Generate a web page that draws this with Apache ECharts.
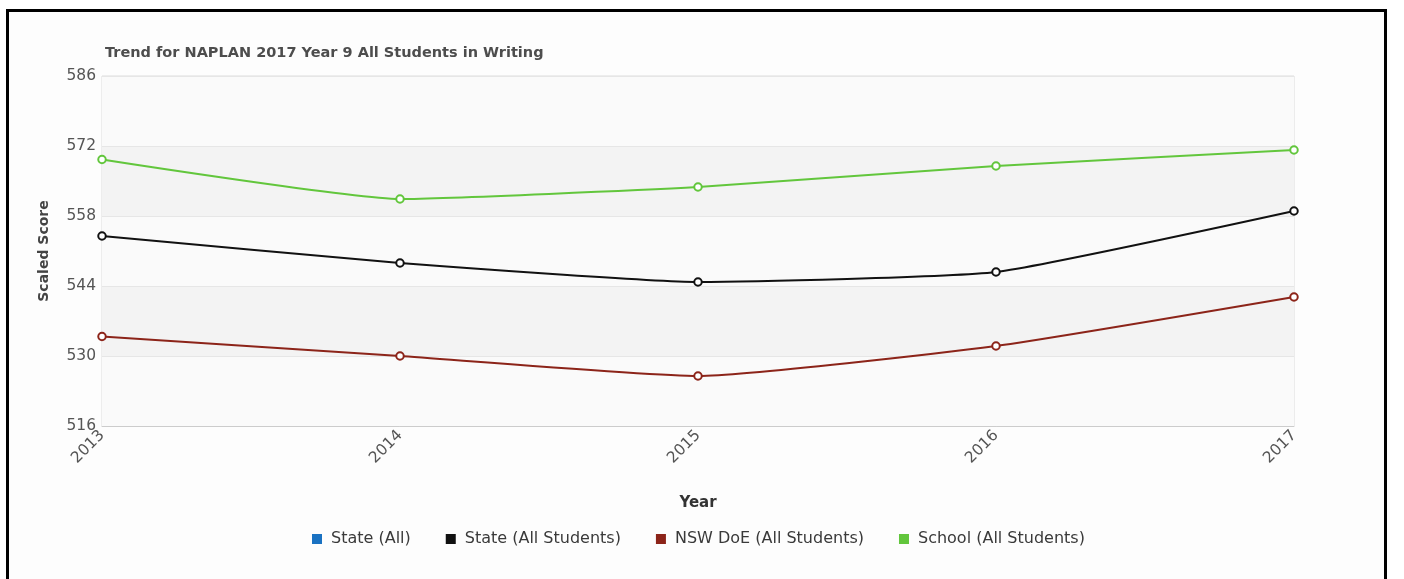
<!DOCTYPE html>
<html>
<head>
<meta charset="utf-8">
<title>Trend for NAPLAN 2017 Year 9 All Students in Writing</title>
<script src="https://cdn.jsdelivr.net/npm/echarts@6/dist/echarts.min.js"></script>
<style>
  html, body { margin: 0; padding: 0; background: #ffffff; }
  #frame {
    position: absolute; left: 6px; top: 9px; width: 1375px; height: 600px;
    border: 3px solid #000; background: #fdfdfd; box-sizing: content-box;
  }
  #chart { position: absolute; left: 0; top: 0; width: 1404px; height: 579px; }
</style>
</head>
<body>
<div id="frame"></div>
<div id="chart"></div>
<script>
// Years on the x axis
const years = ['2013', '2014', '2015', '2016', '2017'];

// Scaled scores per group
const stateAll = [];
const stateAllStudents = [554.0, 548.6, 544.8, 546.8, 559.0];
const nswDoeAllStudents = [533.9, 530.0, 526.0, 532.0, 541.8];
const schoolAllStudents = [569.3, 561.4, 563.8, 568.0, 571.2];

// Y axis range and step
const yMin = 516;
const yMax = 586;
const yStep = 14;

const font = 'DejaVu Sans, Verdana, sans-serif';

function lineSeries(name, data, color) {
  return {
    name: name,
    type: 'line',
    data: data,
    smooth: 0.15,
    symbol: 'emptyCircle',
    symbolSize: 7.5,
    showSymbol: true,
    lineStyle: { color: color, width: 2 },
    itemStyle: { color: color, borderColor: color, borderWidth: 1.3 },
    emphasis: { disabled: true }
  };
}

const chart = echarts.init(document.getElementById('chart'), null, { renderer: 'canvas' });
chart.setOption({
  backgroundColor: 'transparent',
  animation: false,
  title: {
    text: 'Trend for NAPLAN 2017 Year 9 All Students in Writing',
    left: 100,
    top: 41,
    textStyle: { fontFamily: font, fontSize: 14.5, fontWeight: 'bold', color: '#4d4d4d' }
  },
  legend: {
    left: 307,
    top: 526,
    itemWidth: 8,
    itemHeight: 8,
    itemGap: 35,
    icon: 'rect',
    textStyle: { fontFamily: font, fontSize: 16, color: '#3a3a3a', padding: [0, 0, 0, 5] },
    data: ['State (All)', 'State (All Students)', 'NSW DoE (All Students)', 'School (All Students)']
  },
  grid: {
    left: 102, top: 76, width: 1192, height: 350,
    show: true, borderColor: '#dcdcdc', borderWidth: 1, backgroundColor: 'transparent'
  },
  xAxis: {
    type: 'category',
    data: years,
    boundaryGap: false,
    name: 'Year',
    nameLocation: 'middle',
    nameGap: 70,
    nameTextStyle: { fontFamily: font, fontSize: 15, fontWeight: 'bold', color: '#333' },
    axisLine: { lineStyle: { color: '#cccccc' } },
    axisTick: { show: false },
    axisLabel: { rotate: 45, margin: 7, fontFamily: font, fontSize: 15.5, color: '#555' },
    splitLine: { show: false }
  },
  yAxis: {
    type: 'value',
    min: yMin,
    max: yMax,
    interval: yStep,
    name: 'Scaled Score',
    nameLocation: 'middle',
    nameRotate: 90,
    nameGap: 51,
    nameTextStyle: { fontFamily: font, fontSize: 14, fontWeight: 'bold', color: '#444' },
    axisLine: { show: false },
    axisTick: { show: false },
    axisLabel: { margin: 6, fontFamily: font, fontSize: 15.5, color: '#555' },
    splitLine: { lineStyle: { color: '#e6e6e6' } },
    splitArea: { show: true, areaStyle: { color: ['#fafafa', '#f3f3f3'] } }
  },
  series: [
    lineSeries('State (All)', stateAll, '#1a72c2'),
    lineSeries('State (All Students)', stateAllStudents, '#111111'),
    lineSeries('NSW DoE (All Students)', nswDoeAllStudents, '#8c2419'),
    lineSeries('School (All Students)', schoolAllStudents, '#62c63c')
  ]
});
</script>
</body>
</html>
